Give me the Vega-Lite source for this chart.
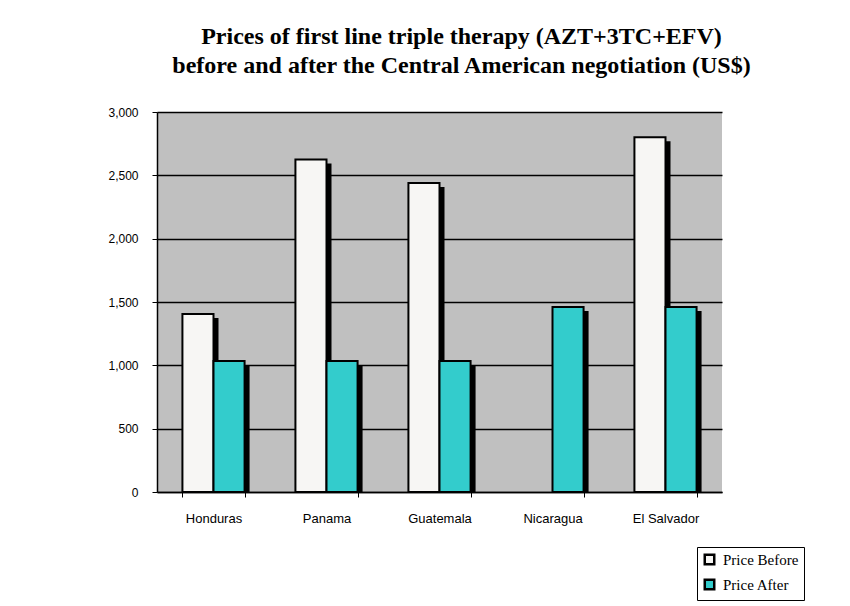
{
  "$schema": "https://vega.github.io/schema/vega-lite/v6.json",
  "width": 565,
  "height": 380,
  "autosize": {"type": "none"},
  "padding": {"left": 157, "top": 112, "right": 128, "bottom": 114},
  "background": "white",
  "title": {
    "text": ["Prices of first line triple therapy (AZT+3TC+EFV)", "before and after the Central American negotiation (US$)"],
    "font": "Liberation Serif",
    "fontSize": 24,
    "fontWeight": "bold",
    "color": "black",
    "anchor": "middle",
    "frame": "group",
    "lineHeight": 29,
    "offset": 28,
    "dx": 22
  },
  "data": {
    "values": [
      {"country": "Honduras", "series": "Price Before", "price": 1405},
      {"country": "Honduras", "series": "Price After", "price": 1035},
      {"country": "Panama", "series": "Price Before", "price": 2625},
      {"country": "Panama", "series": "Price After", "price": 1035},
      {"country": "Guatemala", "series": "Price Before", "price": 2440},
      {"country": "Guatemala", "series": "Price After", "price": 1035},
      {"country": "Nicaragua", "series": "Price After", "price": 1460},
      {"country": "El Salvador", "series": "Price Before", "price": 2800},
      {"country": "El Salvador", "series": "Price After", "price": 1460}
    ]
  },
  "encoding": {
    "x": {
      "field": "country",
      "type": "nominal",
      "sort": ["Honduras", "Panama", "Guatemala", "Nicaragua", "El Salvador"],
      "scale": {"paddingInner": 0.45, "paddingOuter": 0.225},
      "axis": {
        "title": null,
        "labelAngle": 0,
        "tickBand": "extent",
        "ticks": true,
        "tickSize": 5,
        "tickColor": "black",
        "domainColor": "black",
        "domainWidth": 1.5,
        "labelPadding": 15,
        "labelFont": "Liberation Sans",
        "labelFontSize": 13,
        "labelColor": "black",
        "grid": false
      }
    },
    "y": {
      "field": "price",
      "type": "quantitative",
      "scale": {"domain": [0, 3000], "nice": false},
      "axis": {
        "title": null,
        "values": [0, 500, 1000, 1500, 2000, 2500, 3000],
        "format": ",.0f",
        "grid": true,
        "gridColor": "black",
        "gridWidth": 1.5,
        "tickColor": "black",
        "tickSize": 5,
        "domainColor": "black",
        "domainWidth": 1.5,
        "labelPadding": 14,
        "labelFont": "Liberation Sans",
        "labelFontSize": 12,
        "labelColor": "black"
      }
    }
  },
  "layer": [
    {
      "mark": {"type": "bar", "fill": "black", "yOffset": 4, "clip": true},
      "encoding": {
        "xOffset": {
          "field": "series",
          "type": "nominal",
          "sort": ["Price Before", "Price After"],
          "scale": {"domain": ["Price Before", "Price After"], "range": [5, 67.15], "paddingInner": 0, "paddingOuter": 0}
        }
      }
    },
    {
      "mark": {"type": "bar", "stroke": "black", "strokeWidth": 2},
      "encoding": {
        "xOffset": {
          "field": "series",
          "type": "nominal",
          "sort": ["Price Before", "Price After"],
          "scale": {"domain": ["Price Before", "Price After"], "paddingInner": 0, "paddingOuter": 0}
        },
        "color": {
          "field": "series",
          "type": "nominal",
          "sort": ["Price Before", "Price After"],
          "scale": {"domain": ["Price Before", "Price After"], "range": ["#F7F6F4", "#33CCCC"]},
          "legend": {
            "title": null,
            "orient": "none",
            "legendX": 540,
            "legendY": 435,
            "direction": "vertical",
            "fillColor": "white",
            "strokeColor": "black",
            "padding": 5,
            "symbolType": "square",
            "symbolSize": 90,
            "symbolStrokeColor": "black",
            "symbolStrokeWidth": 2.5,
            "labelFont": "Liberation Serif",
            "labelFontSize": 15,
            "labelColor": "black",
            "labelOffset": 6,
            "rowPadding": 4,
            "labelLimit": 200
          }
        }
      }
    }
  ],
  "resolve": {"scale": {"xOffset": "independent"}},
  "config": {
    "view": {"fill": "#C0C0C0", "stroke": null}
  }
}
